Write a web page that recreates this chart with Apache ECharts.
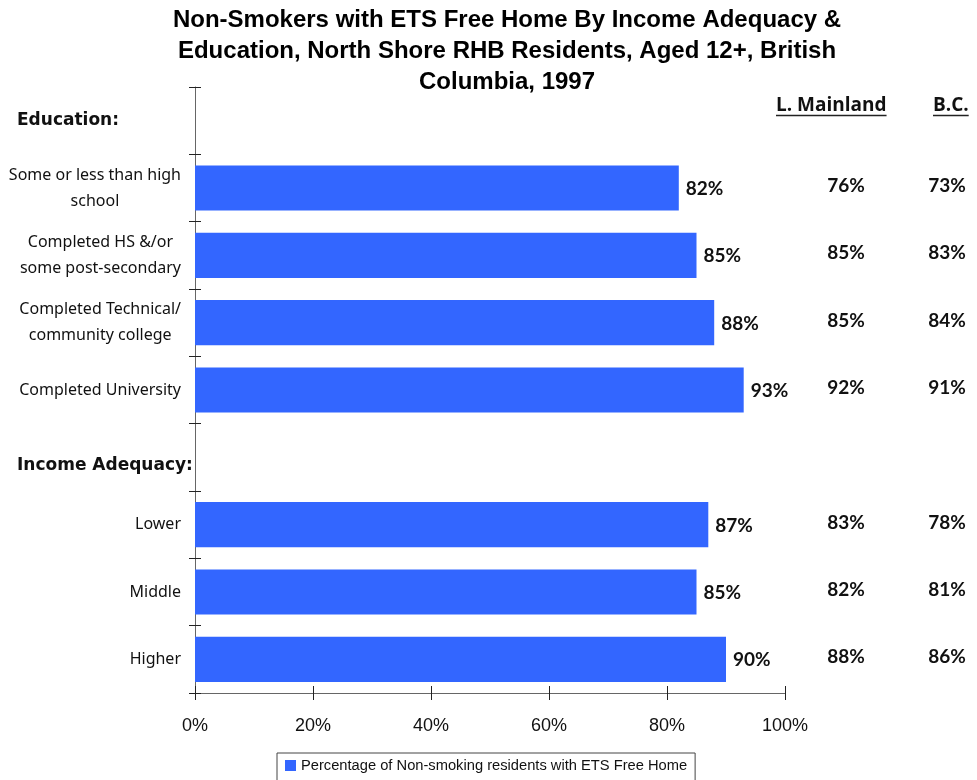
<!DOCTYPE html>
<html>
<head>
<meta charset="utf-8">
<script src="https://cdn.jsdelivr.net/npm/echarts@6/dist/echarts.min.js"></script>
<style>
  html, body { margin: 0; padding: 0; background: #fff; }
  #chart { width: 977px; height: 780px; }
</style>
</head>
<body>
<div id="chart"></div>
<script>
// ---- data ----
const titleText = 'Non-Smokers with ETS Free Home By Income Adequacy &\nEducation, North Shore RHB Residents, Aged 12+, British\nColumbia, 1997';
const categories = [
  'Education:',
  'Some or less than high\nschool',
  'Completed HS &/or\nsome post-secondary',
  'Completed Technical/\ncommunity college',
  'Completed University',
  'Income Adequacy:',
  'Lower',
  'Middle',
  'Higher'
];
const groupHeaders = ['Education:', 'Income Adequacy:'];
const northShore      = [null, 82, 85, 88, 93, null, 87, 85, 90];
const lowerMainland   = [null, 76, 85, 85, 92, null, 83, 82, 88];
const britishColumbia = [null, 73, 83, 84, 91, null, 78, 81, 86];
const compareColumns = ['L. Mainland', 'B.C.'];
const xTicks = [0, 20, 40, 60, 80, 100];
const seriesName = 'Percentage of Non-smoking residents with ETS Free Home';

// ---- styles ----
const SANS = '"Liberation Sans", Arial, sans-serif';
const LABEL_FONT = '"Noto Sans", "DejaVu Sans", sans-serif';
const VALUE_FONT = 'Lato, "Noto Sans", sans-serif';
const BAR_COLOR = '#3366ff';
const AXIS_COLOR = '#666';

const chart = echarts.init(document.getElementById('chart'), null, { renderer: 'canvas' });

// comparison column points: [columnIndex, rowIndex, value]
const compareData = [];
[lowerMainland, britishColumbia].forEach((arr, c) => {
  arr.forEach((v, r) => { if (v != null) compareData.push([c, r, v]); });
});

const option = {
  animation: false,
  backgroundColor: '#fff',
  title: {
    text: titleText,
    left: 502,
    textAlign: 'center',
    top: 0,
    textStyle: {
      fontFamily: SANS,
      fontWeight: 'bold',
      fontSize: 24,
      lineHeight: 31,
      color: '#000'
    }
  },
  legend: {
    data: [seriesName],
    left: 277,
    top: 753,
    padding: [5, 8, 8, 8],
    borderColor: '#444',
    borderWidth: 1,
    itemWidth: 11,
    itemHeight: 11,
    icon: 'rect',
    textStyle: { fontFamily: SANS, fontSize: 14.7, color: '#111' }
  },
  grid: [
    { left: 195, right: 192, top: 87, bottom: 87, containLabel: false },
    { left: 846, right: 30, top: 87, bottom: 87, containLabel: false }
  ],
  xAxis: [
    {
      type: 'value', gridIndex: 0, min: 0, max: 100, interval: 20,
      axisLine: { show: true, lineStyle: { color: AXIS_COLOR, width: 1 } },
      axisTick: { show: true, length: 7, lineStyle: { color: '#222' } },
      splitLine: { show: false },
      axisLabel: {
        formatter: v => v + '%', margin: 24,
        fontFamily: SANS, fontSize: 18, color: '#111'
      }
    },
    {
      // upper half of the crossing ticks
      type: 'value', gridIndex: 0, min: 0, max: 100, interval: 20, position: 'bottom',
      axisLine: { show: false },
      axisTick: { show: true, inside: true, length: 7, lineStyle: { color: '#222' } },
      axisLabel: { show: false }, splitLine: { show: false }
    },
    {
      type: 'category', gridIndex: 1, data: compareColumns, boundaryGap: false, show: false
    }
  ],
  yAxis: [
    {
      type: 'category', gridIndex: 0, data: categories, inverse: true,
      axisLine: { show: true, lineStyle: { color: AXIS_COLOR, width: 1 } },
      axisTick: { show: true, length: 6, lineStyle: { color: '#222' } },
      axisLabel: {
        margin: 14,
        align: 'right',
        formatter: v => groupHeaders.includes(v) ? '' :
          v.split('\n').map(line => '{c|' + line + '}').join('\n'),
        rich: {
          c: { align: 'center', fontFamily: LABEL_FONT, fontSize: 16, lineHeight: 26, color: '#111' }
        }
      }
    },
    {
      // right half of the crossing ticks
      type: 'category', gridIndex: 0, data: categories, inverse: true, position: 'left',
      axisLine: { show: false },
      axisTick: { show: true, inside: true, length: 6, lineStyle: { color: '#222' } },
      axisLabel: { show: false }
    },
    {
      type: 'category', gridIndex: 1, data: categories, inverse: true, show: false
    }
  ],
  series: [
    {
      name: seriesName,
      type: 'bar',
      xAxisIndex: 0, yAxisIndex: 0,
      data: northShore,
      barCategoryGap: '33%',
      itemStyle: { color: BAR_COLOR },
      label: {
        show: true, position: 'right', distance: 7, offset: [0, 1],
        formatter: p => p.value + '%',
        fontFamily: VALUE_FONT, fontWeight: 'bold', fontSize: 19, color: '#111'
      }
    },
    {
      name: 'comparison',
      type: 'scatter',
      xAxisIndex: 2, yAxisIndex: 2,
      data: compareData,
      symbolSize: 1,
      itemStyle: { color: 'rgba(0,0,0,0)', opacity: 1 },
      silent: true,
      label: {
        show: true, position: 'inside', offset: [0, -2],
        formatter: p => p.value[2] + '%',
        fontFamily: VALUE_FONT, fontWeight: 'bold', fontSize: 19, color: '#111'
      }
    }
  ]
};

chart.setOption(option);

// group headers on the left, placed on their category rows
const measureCtx = document.createElement('canvas').getContext('2d');
const headerFont = 'bold 17px "DejaVu Sans", sans-serif';
const graphics = groupHeaders.map((h, i) => {
  const y = chart.convertToPixel({ yAxisIndex: 0 }, categories.indexOf(h));
  return {
    type: 'text', left: 17, top: y - 11 + (i === 0 ? 2 : 11),
    style: { text: h, font: headerFont, fill: '#111' }
  };
});

// underlined column headings
const colFont = 'bold 19px "Open Sans", "Noto Sans", sans-serif';
measureCtx.font = colFont;
const colHeadX = [776, 933];
compareColumns.forEach((name, i) => {
  const w = measureCtx.measureText(name).width;
  graphics.push({
    type: 'text', x: colHeadX[i], y: 106,
    style: { text: name, font: colFont, fill: '#111', verticalAlign: 'middle' }
  });
  graphics.push({
    type: 'line', shape: { x1: colHeadX[i], y1: 115.5, x2: colHeadX[i] + w, y2: 115.5 },
    style: { stroke: '#222', lineWidth: 1.5 }
  });
});

chart.setOption({ graphic: graphics });
</script>
</body>
</html>
